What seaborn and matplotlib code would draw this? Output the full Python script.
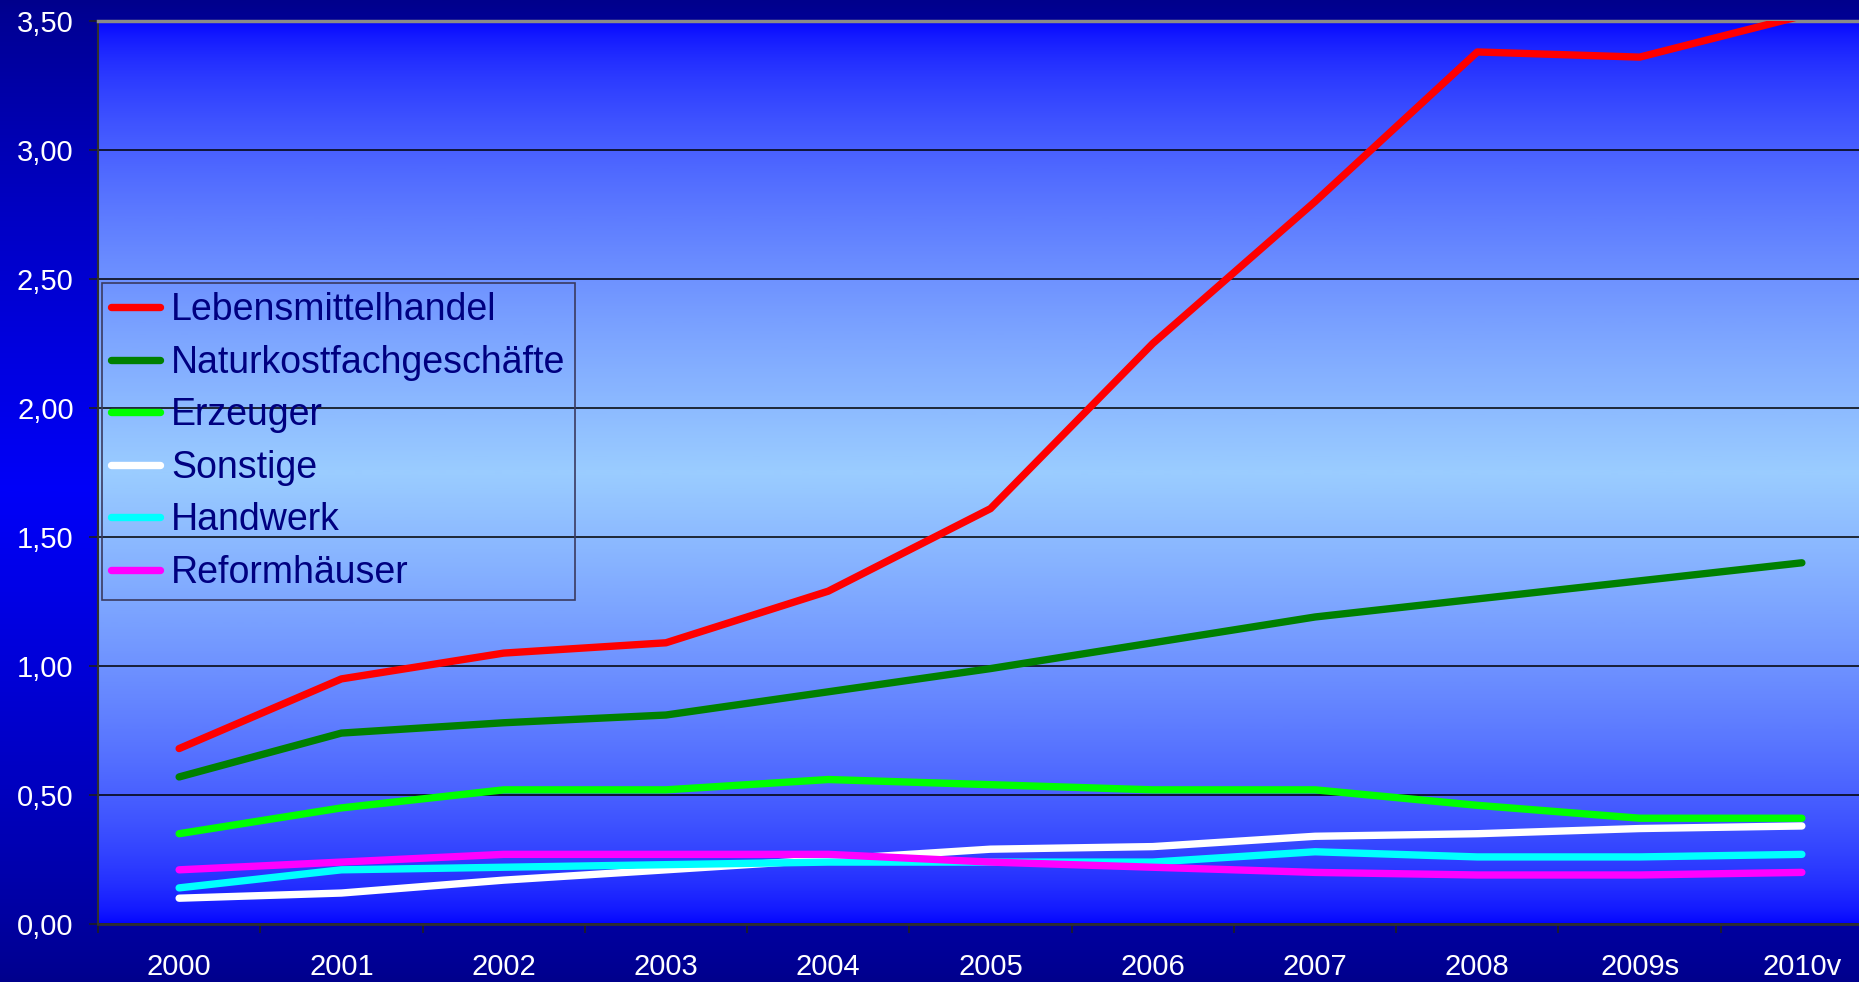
import numpy as np
import pandas as pd
import matplotlib
matplotlib.use("Agg")
import matplotlib.pyplot as plt
import seaborn as sns
from matplotlib.colors import LinearSegmentedColormap
from matplotlib.ticker import FixedLocator, FixedFormatter, NullFormatter

# ---------------- data ----------------
years = ["2000", "2001", "2002", "2003", "2004", "2005", "2006", "2007", "2008", "2009s", "2010v"]
lebensmittelhandel = [0.68, 0.95, 1.05, 1.09, 1.29, 1.61, 2.25, 2.80, 3.38, 3.36, 3.52]
naturkostfachgeschaefte = [0.57, 0.74, 0.78, 0.81, 0.90, 0.99, 1.09, 1.19, 1.26, 1.33, 1.40]
erzeuger = [0.35, 0.45, 0.52, 0.52, 0.56, 0.54, 0.52, 0.52, 0.46, 0.41, 0.41]
sonstige = [0.10, 0.12, 0.17, 0.21, 0.25, 0.29, 0.30, 0.34, 0.35, 0.37, 0.38]
handwerk = [0.14, 0.21, 0.22, 0.23, 0.24, 0.24, 0.24, 0.28, 0.26, 0.26, 0.27]
reformhaeuser = [0.21, 0.24, 0.27, 0.27, 0.27, 0.24, 0.22, 0.20, 0.19, 0.19, 0.20]

series_names = ["Lebensmittelhandel", "Naturkostfachgeschäfte", "Erzeuger",
                "Sonstige", "Handwerk", "Reformhäuser"]
series_values = [lebensmittelhandel, naturkostfachgeschaefte, erzeuger,
                 sonstige, handwerk, reformhaeuser]
series_colors = ["#FF0000", "#008000", "#00FF00", "#FFFFFF", "#00FFFF", "#FF00FF"]

y_ticks = [0.0, 0.5, 1.0, 1.5, 2.0, 2.5, 3.0, 3.5]
y_tick_labels = ["0,00", "0,50", "1,00", "1,50", "2,00", "2,50", "3,00", "3,50"]

df = pd.DataFrame({
    "Jahr": years * len(series_names),
    "Wert": [v for vals in series_values for v in vals],
    "Kanal": [n for n in series_names for _ in years],
})

# ---------------- style ----------------
sns.set_theme(style="white")
plt.rcParams["font.family"] = ["Liberation Sans", "DejaVu Sans"]

W, H = 1859, 982
fig = plt.figure(figsize=(W / 100, H / 100), dpi=100)


def vgrad(axg, edge, center, gamma):
    t = np.linspace(0, 1, 600)
    d = (1 - np.abs(2 * t - 1)) ** gamma
    cmap = LinearSegmentedColormap.from_list("g", [edge, center])
    axg.imshow(d[:, None], aspect="auto", cmap=cmap, extent=[0, 1, 0, 1],
               vmin=0, vmax=1, interpolation="bilinear")
    axg.set_axis_off()


# figure background gradient
bg = fig.add_axes([0, 0, 1, 1], zorder=-10)
vgrad(bg, "#00008C", "#0000F8", 0.8)

# plot area geometry (extends past right edge like the reference)
left_px, right_px, top_px, bot_px = 98, 1883, 21, 924
rect = [left_px / W, 1 - bot_px / H, (right_px - left_px) / W, (bot_px - top_px) / H]

pa = fig.add_axes(rect, zorder=-5)
vgrad(pa, "#0000FF", "#9ACCFF", 0.6)

ax = fig.add_axes(rect, zorder=1)
ax.patch.set_visible(False)

LW = 5.3
sns.lineplot(data=df, x="Jahr", y="Wert", hue="Kanal", hue_order=series_names,
             palette=series_colors, linewidth=LW, sort=False, ax=ax,
             solid_capstyle="round", solid_joinstyle="round", zorder=3)

ax.set_xlim(-0.5, len(years) - 0.5)
ax.set_ylim(0, 3.5)
ax.set_xlabel("")
ax.set_ylabel("")

# y axis
ax.yaxis.set_major_locator(FixedLocator(y_ticks))
ax.yaxis.set_major_formatter(FixedFormatter(y_tick_labels))
ax.tick_params(axis="y", which="major", direction="out", length=6.5, width=1.2,
               color="#202020", pad=11, labelsize=21, labelcolor="white", left=True)
ax.yaxis.grid(True, color="black", linewidth=1.1)
ax.set_axisbelow(True)

# x axis: labels at categories, tick marks between categories
ax.xaxis.set_major_locator(FixedLocator(list(range(len(years)))))
ax.xaxis.set_major_formatter(FixedFormatter(years))
ax.xaxis.set_minor_locator(FixedLocator([i - 0.5 for i in range(len(years) + 1)]))
ax.xaxis.set_minor_formatter(NullFormatter())
ax.tick_params(axis="x", which="major", length=0, pad=21, labelsize=21,
               labelcolor="white", bottom=True)
ax.tick_params(axis="x", which="minor", direction="out", length=6.5, width=1.2,
               color="#202020", bottom=True)
ax.xaxis.grid(False)

for s in ["left", "bottom", "top", "right"]:
    ax.spines[s].set_visible(True)
ax.spines["left"].set_color("#303030")
ax.spines["left"].set_linewidth(1.5)
ax.spines["bottom"].set_color("#303030")
ax.spines["bottom"].set_linewidth(2)
ax.spines["top"].set_color("#8A8A8A")
ax.spines["top"].set_linewidth(2.5)
ax.spines["right"].set_visible(False)

# legend
handles, labels = ax.get_legend_handles_labels()
leg = ax.legend(handles, labels, loc="upper left",
                bbox_to_anchor=(102 / W, 1 - 283 / H), bbox_transform=fig.transFigure,
                borderaxespad=0, borderpad=0.25, handlelength=1.3, handletextpad=0.3,
                labelspacing=0.44, fontsize=27, frameon=True, fancybox=False,
                framealpha=1)
leg.get_frame().set_facecolor("none")
leg.get_frame().set_edgecolor("#3A3A60")
leg.get_frame().set_linewidth(1.2)
for t in leg.get_texts():
    t.set_color("#000080")
for h in leg.get_lines():
    h.set_linewidth(LW)
    h.set_solid_capstyle("round")

fig.savefig("out.png", dpi=100)
